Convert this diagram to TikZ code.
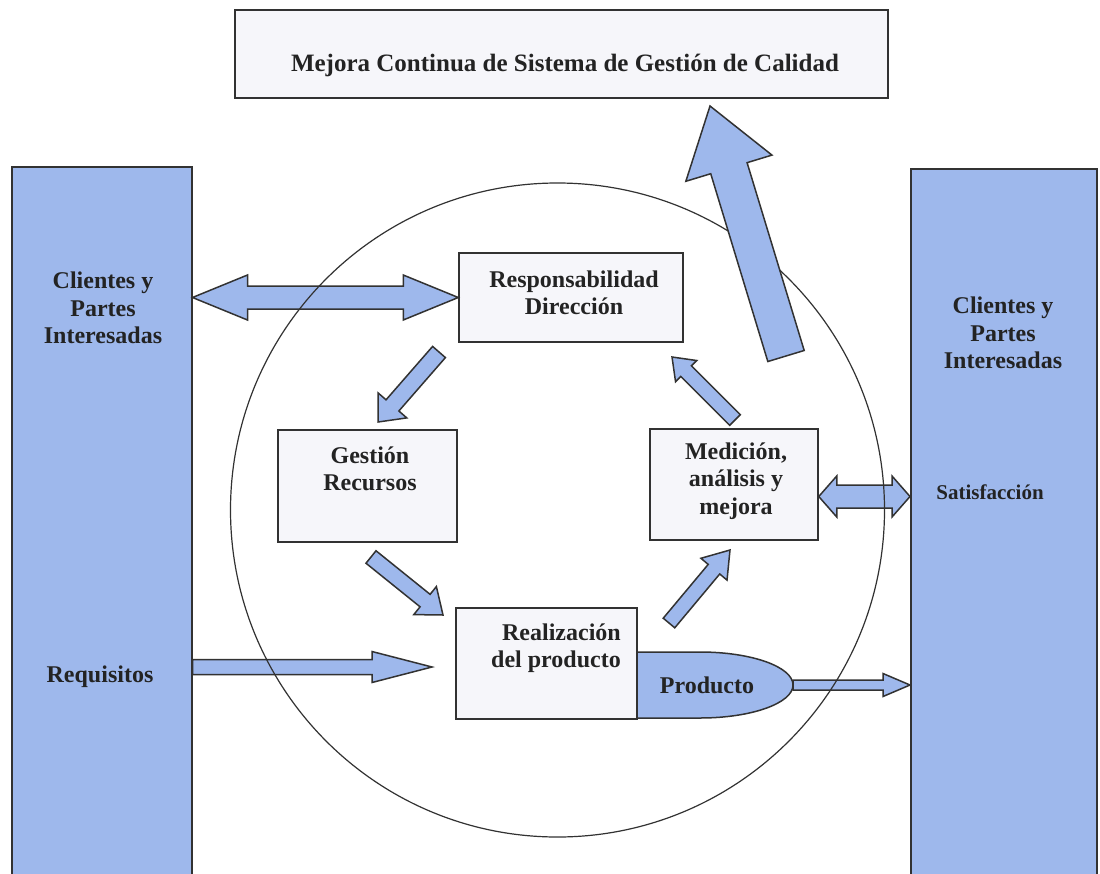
\documentclass[tikz,border=0pt]{standalone}
\usepackage{fontspec}
\setmainfont{Liberation Serif}
\usetikzlibrary{calc}
\definecolor{blu}{RGB}{158,184,236}
\definecolor{boxf}{RGB}{246,246,250}
\definecolor{ln}{RGB}{50,50,50}
\definecolor{txt}{RGB}{35,35,35}
\newcommand\blockarr[5]{%
  \coordinate (hbx) at ($(#2)!#5!(#1)$);
  \draw[arr] ($(#1)!#3!90:(#2)$) -- ($(hbx)!#3!90:(#2)$) -- ($(hbx)!#4!90:(#2)$) -- (#2)
    -- ($(hbx)!#4!-90:(#2)$) -- ($(hbx)!#3!-90:(#2)$) -- ($(#1)!#3!-90:(#2)$) -- cycle;
}
\newcommand\dblarr[5]{%
  \coordinate (hax) at ($(#1)!#5!(#2)$);
  \coordinate (hbx) at ($(#2)!#5!(#1)$);
  \draw[arr] (#1) -- ($(hax)!#4!90:(#2)$) -- ($(hax)!#3!90:(#2)$) -- ($(hbx)!#3!-90:(#1)$)
    -- ($(hbx)!#4!-90:(#1)$) -- (#2) -- ($(hbx)!#4!90:(#1)$) -- ($(hbx)!#3!90:(#1)$)
    -- ($(hax)!#3!-90:(#2)$) -- ($(hax)!#4!-90:(#2)$) -- cycle;
}
\begin{document}
\begin{tikzpicture}[x=1pt,y=-1pt,
  lbl/.style={font=\bfseries\fontsize{24}{27.5}\selectfont, align=center, text=txt, inner sep=0pt},
  bx/.style={draw=ln, line width=1.5pt, fill=boxf, inner sep=0pt},
  bar/.style={draw=ln, line width=1.5pt, fill=blu, inner sep=0pt},
  arr/.style={draw=ln, line width=1.5pt, fill=blu, line join=miter}]
\useasboundingbox (0,0) rectangle (1100,873);
\clip (0,0) rectangle (1100,873);
\fill[white] (0,0) rectangle (1100,873);

% side bars
\node[bar, anchor=north west, minimum width=180pt, minimum height=760pt] (lbar) at (11,166) {};
\node[bar, anchor=north west, minimum width=186pt, minimum height=760pt] (rbar) at (910,168) {};

% top box
\node[bx, minimum width=653pt, minimum height=88pt] (top) at (561.5,54) {};
\node[lbl, font=\bfseries\fontsize{25}{28}\selectfont] (topT) at (565,65) {Mejora Continua de Sistema de Gestión de Calidad};

% inner boxes
\node[bx, minimum width=224pt, minimum height=89pt] (resp) at (571,297.5) {};
\node[bx, minimum width=179pt, minimum height=112pt] (gest) at (367.5,486) {};
\node[bx, minimum width=168pt, minimum height=111pt] (med) at (734,484.5) {};
\node[bx, minimum width=181pt, minimum height=111pt] (real) at (546.5,663.5) {};

% producto shape
\coordinate (pA) at (637,652);
\coordinate (pB) at (700,652);
\draw[arr] (pA) -- (pB) arc[start angle=-90, end angle=90, x radius=93, y radius=33] -- (637,718) -- cycle;
\coordinate (prodE) at (793,685);
\node[lbl] (prodT) at (707,685) {Producto};

% texts
\node[lbl] (lcT) at (103,308) {Clientes y\\Partes\\Interesadas};
\node[lbl] (rcT) at (1003,333) {Clientes y\\Partes\\Interesadas};
\node[lbl] (reqT) at (100,677) {Requisitos};
\node[lbl, font=\bfseries\fontsize{21}{25}\selectfont] (satT) at (990,492) {Satisfacción};
\node[lbl] (respT) at (574,293) {Responsabilidad\\Dirección};
\node[lbl] (gestT) at (370,469) {Gestión\\Recursos};
\node[lbl] (medT) at (736,481) {Medición,\\análisis y\\mejora};
\node[lbl, align=right] (realT) at (556,648) {Realización\\del producto};

% arrow end points
\coordinate (d1a) at (lbar.east |- resp.west);
\coordinate (d1b) at (resp.west);
\coordinate (d2a) at ($(med.east)+(0,12)$);
\coordinate (d2b) at (rbar.west |- d2a);
\coordinate (rqA) at (lbar.east |- 0,667);
\coordinate (rqB) at (432,667);
\coordinate (prB) at (rbar.west |- prodE);
\coordinate (c1A) at (439,352);
\coordinate (c1B) at (378,422);
\coordinate (c2A) at (371,557);
\coordinate (c2B) at (443,615);
\coordinate (c3A) at (669,623);
\coordinate (c3B) at (730,550);
\coordinate (c4A) at (735,420);
\coordinate (c4B) at (672,357);
\coordinate (bgA) at (786,356);
\coordinate (bgB) at (710,106);

% arrows
\dblarr{d1a}{d1b}{11.5pt}{22.5pt}{55pt}
\dblarr{d2a}{d2b}{11.5pt}{20.5pt}{18pt}
\blockarr{rqA}{rqB}{7.5pt}{15.5pt}{60pt}
\blockarr{prodE}{prB}{5pt}{11.5pt}{27pt}
\blockarr{c1A}{c1B}{8.5pt}{19pt}{22pt}
\blockarr{c2A}{c2B}{8pt}{18pt}{23pt}
\blockarr{c3A}{c3B}{7.5pt}{17pt}{25pt}
\blockarr{c4A}{c4B}{7.5pt}{15pt}{20pt}

% circle
\node[draw=ln, circle, line width=1.2pt, minimum size=654pt, inner sep=0pt] (circ) at (557.5,510) {};

% big arrow
\blockarr{bgA}{bgB}{19pt}{45pt}{65pt}
\end{tikzpicture}
\end{document}
